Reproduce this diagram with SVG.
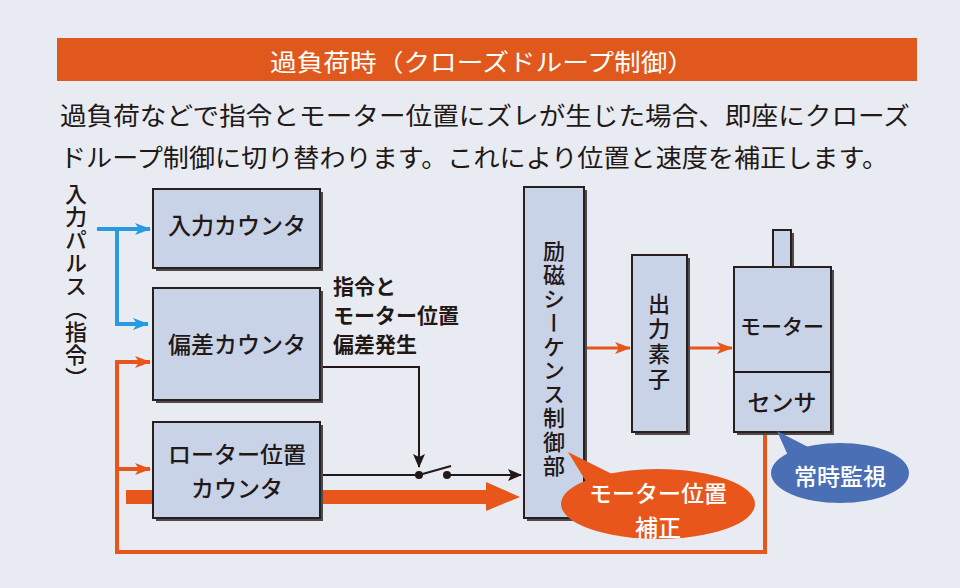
<svg xmlns="http://www.w3.org/2000/svg" width="960" height="588" viewBox="0 0 960 588">
<defs>
<style>
text{font-family:"Noto Sans CJK JP","Noto Sans",sans-serif;fill:#231815}
.box{fill:#c8d3e8;stroke:#2a1f1f;stroke-width:2}
.shadow{fill:#4d4a4c}
.lbl{font-size:23px;font-weight:500;text-anchor:middle;dominant-baseline:central}
.vert{font-size:22px;font-weight:500;writing-mode:vertical-rl}
.wt{fill:#ffffff;font-size:23px;font-weight:500;text-anchor:middle;dominant-baseline:central}
.or{stroke:#e8561c;fill:none}
.bl{stroke:#2a9ae0;fill:none;stroke-width:4}
.bk{stroke:#231815;fill:none;stroke-width:2}
</style>
<marker id="ao" viewBox="0 0 16 12" refX="15" refY="6" markerWidth="16" markerHeight="12" markerUnits="userSpaceOnUse" orient="auto"><path d="M0,0 L16,6 L0,12 L4,6 Z" fill="#e8561c"/></marker>
<marker id="ab" viewBox="0 0 16 12" refX="15" refY="6" markerWidth="16" markerHeight="12" markerUnits="userSpaceOnUse" orient="auto"><path d="M0,0 L16,6 L0,12 L4,6 Z" fill="#2a9ae0"/></marker>
<marker id="ak" viewBox="0 0 14 12" refX="13" refY="6" markerWidth="14" markerHeight="12" markerUnits="userSpaceOnUse" orient="auto"><path d="M0,0 L14,6 L0,12 L3,6 Z" fill="#231815"/></marker>
</defs>
<rect width="960" height="588" fill="#e8ecf2"/>

<g id="title">
<rect x="57" y="38" width="860" height="43" fill="#e0581c"/>
<text x="482" y="60" style="fill:#fff" font-size="24" text-anchor="middle" dominant-baseline="central" textLength="424" lengthAdjust="spacingAndGlyphs">過負荷時（クローズドループ制御）</text>
</g>
<g id="description">
<text x="60" y="114" font-size="25" dominant-baseline="central" textLength="850" lengthAdjust="spacingAndGlyphs">過負荷などで指令とモーター位置にズレが生じた場合、即座にクローズ</text>
<text x="60" y="156" font-size="25" dominant-baseline="central" textLength="828" lengthAdjust="spacingAndGlyphs">ドループ制御に切り替わります。これにより位置と速度を補正します。</text>
</g>

<g id="connectors">
<line x1="126" y1="497" x2="492" y2="497" stroke="#e8561c" stroke-width="14"/>
<path d="M486,482 L520,497 L486,511 Z" fill="#e8561c"/>
<path class="or" stroke-width="4" d="M765,433 V552 H117 V362 H136"/>
<line class="or" stroke-width="4" x1="117" y1="362" x2="150" y2="362" marker-end="url(#ao)"/>
<line class="or" stroke-width="4" x1="117" y1="469" x2="150" y2="469" marker-end="url(#ao)"/>
<line class="or" stroke-width="3" x1="586" y1="348" x2="630" y2="348" marker-end="url(#ao)"/>
<line class="or" stroke-width="3" x1="689" y1="348" x2="732" y2="348" marker-end="url(#ao)"/>
<line class="bl" x1="97" y1="229" x2="150" y2="229" marker-end="url(#ab)"/>
<path class="bl" d="M117,229 V324 H148" marker-end="url(#ab)"/>
<path class="bk" d="M321,367 H419 V467" marker-end="url(#ak)"/>
<line class="bk" x1="321" y1="475" x2="419" y2="475"/>
<line class="bk" x1="419" y1="475" x2="451" y2="466"/>
<line class="bk" x1="447" y1="475" x2="521" y2="475" marker-end="url(#ak)"/>
<circle cx="419" cy="475" r="4" fill="#231815"/>
<circle cx="447" cy="475" r="4" fill="#231815"/>
</g>

<g id="input-pulse-label">
<text class="vert" x="76" y="183" letter-spacing="1">入力パルス（指令）</text>
</g>

<g id="input-counter">
<rect class="shadow" x="156" y="192" width="167" height="79"/>
<rect class="box" x="153" y="189" width="167" height="79"/>
<text class="lbl" x="237" y="224">入力カウンタ</text>
</g>
<g id="deviation-counter">
<rect class="shadow" x="156" y="291" width="167" height="112"/>
<rect class="box" x="153" y="288" width="167" height="112"/>
<text class="lbl" x="237" y="343">偏差カウンタ</text>
</g>
<g id="rotor-counter">
<rect class="shadow" x="156" y="425" width="167" height="96"/>
<rect class="box" x="153" y="422" width="167" height="96"/>
<text class="lbl" x="237" y="453">ローター位置</text>
<text class="lbl" x="237" y="487">カウンタ</text>
</g>
<g id="deviation-label">
<text x="333" y="285" font-size="21" font-weight="700" dominant-baseline="central">指令と</text>
<text x="333" y="314" font-size="21" font-weight="700" dominant-baseline="central">モーター位置</text>
<text x="333" y="343" font-size="21" font-weight="700" dominant-baseline="central">偏差発生</text>
</g>
<g id="excitation-control">
<rect class="shadow" x="527" y="190" width="60" height="331"/>
<rect class="box" x="524" y="187" width="60" height="331"/>
<text class="vert" x="554" y="240" letter-spacing="1.8">励磁シーケンス制御部</text>
</g>
<g id="output-element">
<rect class="shadow" x="635" y="258" width="55" height="177"/>
<rect class="box" x="632" y="255" width="55" height="177"/>
<text class="vert" x="659" y="293" letter-spacing="3">出力素子</text>
</g>
<g id="motor">
<rect class="shadow" x="776" y="233" width="18" height="37"/>
<rect class="box" x="773" y="230" width="18" height="37"/>
<rect class="shadow" x="737" y="270" width="97" height="165"/>
<rect class="box" x="734" y="267" width="97" height="165"/>
<line class="bk" x1="734" y1="372" x2="831" y2="372"/>
<text class="lbl" x="782" y="325" style="font-size:21px">モーター</text>
<text class="lbl" x="782" y="401">センサ</text>
</g>
<g id="position-correction-bubble">
<path d="M568,452 L612,474 L590,488 Z" fill="#e8561c"/>
<ellipse cx="658" cy="504" rx="97" ry="35" fill="#e8561c"/>
<text class="wt" x="658" y="492">モーター位置</text>
<text class="wt" x="658" y="526">補正</text>
</g>
<g id="monitoring-bubble">
<path d="M777,431 L810,448 L790,460 Z" fill="#4a6fb5"/>
<ellipse cx="840" cy="473" rx="69" ry="30" fill="#4a6fb5"/>
<text class="wt" x="840" y="475">常時監視</text>
</g>
</svg>
